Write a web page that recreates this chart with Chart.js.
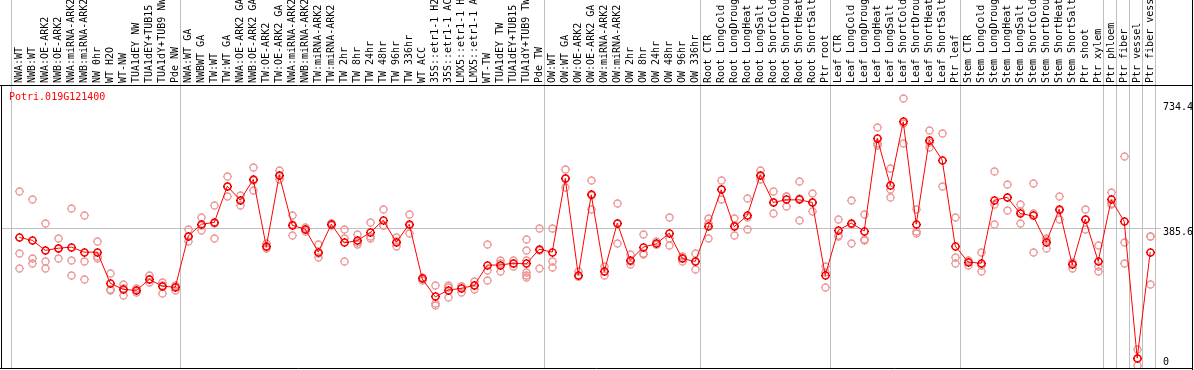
<!DOCTYPE html>
<html>
<head>
<meta charset="utf-8">
<title>Potri.019G121400</title>
<script src="https://cdn.jsdelivr.net/npm/chart.js@4.4.1/dist/chart.umd.min.js"></script>
<style>
  html, body { margin: 0; padding: 0; background: #fff; }
  #chart { display: block; }
</style>
</head>
<body>
<canvas id="chart" width="1194" height="370"></canvas>
<script>
/* =================================================================
   Expression profile — one gene across sample groups
   Means joined by a line, replicates as faint markers
   ================================================================= */

const geneName = 'Potri.019G121400';

// Sample labels, in plot order
const categories = [
  'NWA:WT', 'NWB:WT', 'NWA:OE-ARK2', 'NWB:OE-ARK2', 'NWA:miRNA-ARK2', 'NWB:miRNA-ARK2',
  'NW 0hr', 'WT H2O', 'WT-NW', 'TUA1dEY NW', 'TUA1dEY+TUB15 NW', 'TUA1dY+TUB9 NW', 'Pde NW',
  'NWA:WT GA', 'NWBWT GA', 'TW:WT', 'TW:WT GA', 'NWA:OE-ARK2 GA', 'NWB:OE-ARK2 GA',
  'TW:OE-ARK2', 'TW:OE-ARK2 GA', 'NWA:miRNA-ARK2', 'NWB:miRNA-ARK2', 'TW:miRNA-ARK2',
  'TW:miRNA-ARK2', 'TW 2hr', 'TW 8hr', 'TW 24hr', 'TW 48hr', 'TW 96hr', 'TW 336hr', 'WT ACC',
  '35S::etr1-1 H2O', '35S::etr1-1 ACC', 'LMX5::etr1-1 H2O', 'LMX5::etr1-1 ACC', 'WT-TW',
  'TUA1dEY TW', 'TUA1dEY+TUB15 TW', 'TUA1dY+TUB9 TW', 'Pde TW',
  'OW:WT', 'OW:WT GA', 'OW:OE-ARK2', 'OW:OE-ARK2 GA', 'OW:miRNA-ARK2', 'OW:miRNA-ARK2',
  'OW 2hr', 'OW 8hr', 'OW 24hr', 'OW 48hr', 'OW 96hr', 'OW 336hr',
  'Root CTR', 'Root LongCold', 'Root LongDrought', 'Root LongHeat', 'Root LongSalt',
  'Root ShortCold', 'Root ShortDrought', 'Root ShortHeat', 'Root ShortSalt', 'Ptr root',
  'Leaf CTR', 'Leaf LongCold', 'Leaf LongDrought', 'Leaf LongHeat', 'Leaf LongSalt',
  'Leaf ShortCold', 'Leaf ShortDrought', 'Leaf ShortHeat', 'Leaf ShortSalt', 'Ptr leaf',
  'Stem CTR', 'Stem LongCold', 'Stem LongDrought', 'Stem LongHeat', 'Stem LongSalt',
  'Stem ShortCold', 'Stem ShortDrought', 'Stem ShortHeat', 'Stem ShortSalt', 'Ptr shoot', 'Ptr xylem',
  'Ptr phloem', 'Ptr fiber', 'Ptr vessel', 'Ptr fiber vessel'
];

// Index of the first sample of each group (grey separators)
const groupStarts = [0, 13, 41, 53, 63, 73, 84, 85, 86, 87, 88];

// Mean expression per sample
const means = [
  359, 351, 323, 329, 332, 318, 318, 231, 214, 211, 242, 223, 220,
  363, 396, 401, 502, 463, 521, 333, 533, 393, 382, 318, 396, 344, 350, 373, 407, 346,
  396, 243, 193, 212, 217, 225, 282, 282, 287, 285, 326,
  318, 524, 254, 478, 264, 399, 295, 332, 341, 371, 300, 292,
  389, 492, 389, 420, 533, 457, 464, 464, 457, 253,
  379, 399, 377, 636, 505, 682, 396, 631, 575, 335,
  290, 287, 463, 471, 426, 419, 345, 438, 283, 410, 292,
  464, 404, 22, 318
];

// Replicate values per sample
const replicates = [
  [488, 315, 273], [466, 299, 287], [399, 292, 273], [357, 301, 329], [440, 295, 253],
  [421, 292, 242], [348, 305, 299], [259, 214, 212], [228, 197, 217], [217, 206, 211],
  [252, 233, 242], [233, 203, 226], [226, 212, 221],
  [380, 347, 363], [416, 379, 393], [449, 357, 398], [530, 474, 502], [476, 449, 463],
  [555, 491, 518], [341, 327, 332], [547, 521, 531], [419, 365, 395], [387, 377, 382],
  [338, 302, 314], [399, 391, 397], [380, 357, 292], [366, 338, 346], [401, 356, 363],
  [438, 392, 391], [358, 333, 347], [424, 371, 392], [246, 240, 243], [225, 175, 170],
  [226, 192, 218], [223, 206, 222], [235, 215, 225], [338, 268, 239], [294, 265, 287],
  [296, 279, 286], [352, 323, 294, 262, 254, 247], [383, 273, 322],
  [385, 291, 276], [550, 499, 523], [263, 249, 251], [519, 436, 477], [277, 252, 264],
  [454, 343, 399], [310, 283, 293], [368, 315, 310], [347, 338, 338], [415, 357, 337],
  [305, 293, 300], [315, 270, 291],
  [413, 357, 397], [517, 466, 492], [411, 365, 391], [468, 414, 382], [545, 521, 532],
  [488, 426, 457], [473, 445, 473], [514, 469, 407], [483, 432, 456], [277, 220, 262],
  [410, 364, 363], [461, 341, 396], [424, 354, 350], [667, 622, 617], [552, 492, 471],
  [748, 622, 677], [438, 377, 369], [658, 611, 624], [650, 501], [415, 302, 287],
  [296, 282, 293], [318, 263, 280], [542, 394, 452], [507, 435, 471], [450, 399, 431],
  [510, 426, 318], [357, 329, 350], [472, 410, 433], [287, 273, 289], [438, 382, 410],
  [336, 277, 263],
  [485, 452, 455], [586, 345, 285], [47, 0, 20], [363, 228, 361]
];

// Value ticks shown on the right
const yTickValues = [734.4, 385.6, 0];
const yTickLabels = ['734.4', '385.6', '0'];
const meanLineValue = 385.6;

// Colours
const RED = '#ff0000';
const DARK_RED = '#a00000';
const PINK = 'rgb(236,150,150)';
const GRID = 'rgb(192,192,192)';
const FONT = '10px "DejaVu Sans Mono", monospace';

// Small ring marker with four tick pixels on its edge, used as a point image
function makeMarker(color, width, tickColor) {
  const c = document.createElement('canvas');
  c.width = 11;
  c.height = 11;
  const g = c.getContext('2d');
  g.strokeStyle = color;
  g.lineWidth = width;
  g.beginPath();
  g.arc(5.5, 5.5, 3.5, 0, Math.PI * 2);
  g.stroke();
  g.fillStyle = tickColor;
  g.fillRect(5, 1, 1, 1);
  g.fillRect(5, 9, 1, 1);
  g.fillRect(1, 5, 1, 1);
  g.fillRect(9, 5, 1, 1);
  return c;
}

const meanPoints = means.map((v, i) => ({ x: i, y: v }));
const replicatePoints = [];
replicates.forEach((reps, i) => reps.forEach(v => replicatePoints.push({ x: i, y: v })));

const crisp = v => Math.round(v) + 0.5;

// Grid, header labels, value labels and frame
const decorations = {
  id: 'decorations',
  beforeDatasetsDraw(chart) {
    const { ctx, scales: { x, y }, chartArea } = chart;
    ctx.save();
    ctx.strokeStyle = GRID;
    ctx.lineWidth = 1;
    ctx.beginPath();
    groupStarts.forEach(k => {
      const px = crisp(x.getPixelForValue(k - 0.66));
      ctx.moveTo(px, 0);
      ctx.lineTo(px, chartArea.bottom);
    });
    const py = crisp(y.getPixelForValue(meanLineValue));
    ctx.moveTo(chartArea.left, py);
    ctx.lineTo(1161, py);
    ctx.stroke();
    ctx.restore();
    ctx.imageSmoothingEnabled = false;
  },
  afterDraw(chart) {
    const { ctx, scales: { x, y } } = chart;
    ctx.save();
    ctx.font = FONT;

    // rotated sample labels
    ctx.fillStyle = '#000';
    ctx.textAlign = 'left';
    ctx.textBaseline = 'alphabetic';
    categories.forEach((label, i) => {
      ctx.save();
      ctx.translate(x.getPixelForValue(i), 83);
      ctx.rotate(-Math.PI / 2);
      ctx.fillText(label, 0, 2.5);
      ctx.restore();
    });

    // gene name
    ctx.fillStyle = RED;
    ctx.textBaseline = 'middle';
    ctx.fillText(geneName, 9, 97);

    // value labels
    ctx.fillStyle = '#000';
    yTickValues.forEach((v, i) => {
      const off = v === 0 ? -4 : 4;
      ctx.fillText(yTickLabels[i], 1163, y.getPixelForValue(v) + off);
    });

    // frame
    ctx.strokeStyle = '#000';
    ctx.lineWidth = 1;
    ctx.beginPath();
    ctx.moveTo(0, 85.5);
    ctx.lineTo(1193, 85.5);
    ctx.moveTo(1.5, 85.5);
    ctx.lineTo(1.5, 368.5);
    ctx.moveTo(0, 368.5);
    ctx.lineTo(1193, 368.5);
    ctx.moveTo(1192.5, 0);
    ctx.lineTo(1192.5, 370);
    ctx.stroke();
    ctx.restore();
  }
};

new Chart(document.getElementById('chart'), {
  type: 'scatter',
  data: {
    datasets: [
      {
        type: 'line',
        data: meanPoints,
        borderColor: RED,
        borderWidth: 1,
        pointStyle: makeMarker(RED, 1.6, DARK_RED),
        pointRadius: 5,
        tension: 0,
        fill: false
      },
      {
        data: replicatePoints,
        pointStyle: makeMarker(PINK, 1.3, PINK),
        pointRadius: 5
      }
    ]
  },
  options: {
    responsive: false,
    animation: false,
    devicePixelRatio: 1,
    layout: { autoPadding: false, padding: { left: 1, top: 86, right: 2, bottom: 1.5 } },
    scales: {
      x: { type: 'linear', min: -1.408, max: 90.215, display: false },
      y: { type: 'linear', min: -7, max: 782, display: false }
    },
    plugins: {
      legend: { display: false },
      tooltip: { enabled: false }
    }
  },
  plugins: [decorations]
});
</script>
</body>
</html>
